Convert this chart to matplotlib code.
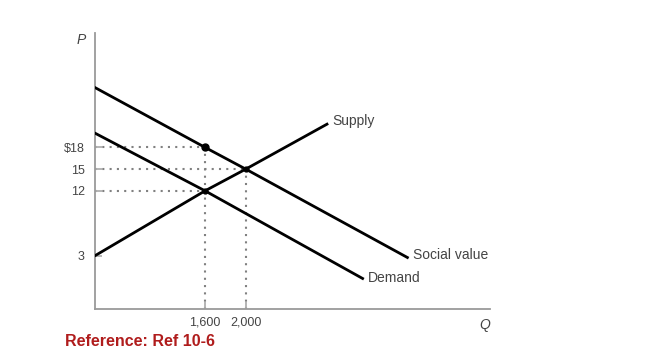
import matplotlib
matplotlib.use("Agg")
import matplotlib.pyplot as plt

plt.rcParams['font.family'] = ['Liberation Sans', 'DejaVu Sans']

# Curves (schematic): quantity Q, price P.
supply_q = [514, 1600, 2000, 2810]
supply_p = [3, 12, 15, 21.3]
demand_q = [514, 1600, 3160]
demand_p = [20.0, 12, -0.2]
social_q = [514, 1600, 2000, 3600]
social_p = [26.3, 18, 15, 2.7]

# Marked points and ticks.
points_q = [1600, 2000, 1600]
points_p = [18, 15, 12]
q_ticks = [1600, 2000]
q_tick_labels = ["1,600", "2,000"]
p_ticks = [3, 12, 15, 18]
p_tick_labels = ["3", "12", "15", "$18"]

grey = "#9a9a9a"
dot_col = "#808080"
text_col = "#444444"

fig = plt.figure(figsize=(6.5, 3.59), dpi=100)
ax = fig.add_axes([0.1454, 0.1393, 0.6085, 0.7688])
ax.set_xlim(514, 4400)
ax.set_ylim(-4.32, 33.8)

# Dotted guides from the axes to the marked points.
for q, p in zip(points_q, points_p):
    ax.plot([514, q], [p, p], ls=(0, (1, 2.5)), color=dot_col, lw=1.5, zorder=1)
for q, p in zip(points_q[:2], points_p[:2]):
    ax.plot([q, q], [-4.32, p], ls=(0, (1, 2.5)), color=dot_col, lw=1.5, zorder=1)

ax.plot(supply_q, supply_p, color="black", lw=2, solid_capstyle="butt", zorder=3)
ax.plot(demand_q, demand_p, color="black", lw=2, solid_capstyle="butt", zorder=3)
ax.plot(social_q, social_p, color="black", lw=2, solid_capstyle="butt", zorder=3)
ax.plot(points_q[:1], points_p[:1], "o", color="black", ms=5, zorder=4)
ax.plot(points_q[1:], points_p[1:], "o", color="black", ms=3.5, zorder=4)

# Curve labels at the line ends.
ax.annotate("Supply", (supply_q[-1], supply_p[-1]), xytext=(3, 2),
            textcoords="offset points", ha="left", va="center",
            fontsize=10, color=text_col)
ax.annotate("Social value", (social_q[-1], social_p[-1]), xytext=(3, 2),
            textcoords="offset points", ha="left", va="center",
            fontsize=10, color=text_col)
ax.annotate("Demand", (demand_q[-1], demand_p[-1]), xytext=(3, 1),
            textcoords="offset points", ha="left", va="center",
            fontsize=10, color=text_col)

ax.set_xticks(q_ticks)
ax.set_xticklabels(q_tick_labels)
ax.set_yticks(p_ticks)
ax.set_yticklabels(p_tick_labels)
ax.tick_params(direction="in", length=5, width=1.3, color="#b0b0b0",
               labelsize=9, labelcolor=text_col)
ax.tick_params(axis="y", pad=7)
ax.tick_params(axis="x", pad=5.5)

for side in ["top", "right"]:
    ax.spines[side].set_visible(False)
for side in ["left", "bottom"]:
    ax.spines[side].set_color(grey)
    ax.spines[side].set_linewidth(1.3)

fig.text(81 / 650, 1 - 40 / 359, "P", style="italic", fontsize=10,
         color=text_col, ha="center", va="center")
fig.text(485 / 650, 1 - 325 / 359, "Q", style="italic", fontsize=10,
         color=text_col, ha="center", va="center")
fig.text(65 / 650, 1 - 341 / 359, "Reference: Ref 10-6", fontsize=11.5,
         fontweight="bold", color="#b01c1c", ha="left", va="center")

fig.savefig("out.png", dpi=100)
